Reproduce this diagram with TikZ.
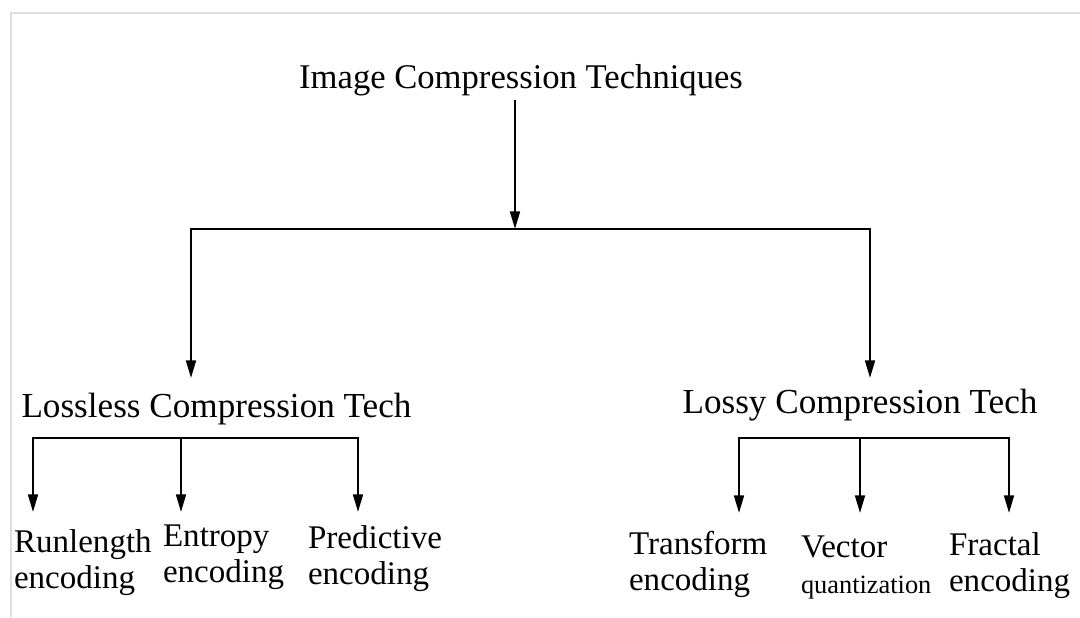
\documentclass[tikz,border=0pt]{standalone}
\usepackage{fontspec}
\setmainfont{Liberation Serif}
\usetikzlibrary{arrows.meta}
\tikzset{
  heading/.style = {font=\fontsize{10}{12}\selectfont, inner sep=1pt},
  leaf/.style = {font=\fontsize{9.4}{10.2}\selectfont, align=left, anchor=north west, inner sep=0}
}

\begin{document}
\begin{tikzpicture}[>={Triangle[length=5pt, width=2.8pt]}, line width=0.6pt]
    \useasboundingbox (0, 0) rectangle (10.8, 6.17);
    % thin grey frame on top and left
    \draw [black!13, line width=0.8pt] (10.8, 6.04) -- (0.11, 6.04) -- (0.11, 0);

    \node [heading, anchor=base, font=\fontsize{9.85}{12}\selectfont] (title) at (5.21, 5.29) {Image Compression Techniques};
    \node [heading, anchor=base] (lossless) at (2.165, 2.00) {Lossless Compression Tech};
    \node [heading, anchor=base] (lossy) at (8.60, 2.04) {Lossy Compression Tech};

    \node [leaf] (runlen) at (0.13, 0.88) {Runlength\\encoding};
    \node [leaf] (entropy) at (1.62, 0.93) {Entropy\\encoding};
    \node [leaf] (predict) at (3.07, 0.92) {Predictive\\encoding};
    \node [leaf] (transform) at (6.28, 0.87) {Transform\\encoding};
    \node [leaf] (vector) at (8.00, 0.82) {Vector\\{\fontsize{7.5}{9}\selectfont quantization}};
    \node [leaf] (fractal) at (9.48, 0.85) {Fractal\\encoding};

    % junctions and arrow ends
    \coordinate (hub) at (5.15, 3.88);
    \coordinate (losslessIn) at (1.91, 2.39);
    \coordinate (lossyIn) at (8.70, 2.39);
    \coordinate (losslessBar) at (1.81, 1.79);
    \coordinate (lossyBar) at (8.60, 1.79);
    \coordinate (runlenIn) at (0.33, 1.05);
    \coordinate (entropyIn) at (1.81, 1.05);
    \coordinate (predictIn) at (3.58, 1.05);
    \coordinate (transformIn) at (7.39, 1.04);
    \coordinate (vectorIn) at (8.60, 1.04);
    \coordinate (fractalIn) at (10.09, 1.04);

    \draw [->] (title.south -| hub) -- (hub);
    \draw [<->] (losslessIn) |- (hub) -| (lossyIn);

    \draw [<->] (runlenIn) |- (losslessBar) -| (predictIn);
    \draw [->] (losslessBar) -- (entropyIn);

    \draw [<->] (transformIn) |- (lossyBar) -| (fractalIn);
    \draw [->] (lossyBar) -- (vectorIn);
\end{tikzpicture}
\end{document}
